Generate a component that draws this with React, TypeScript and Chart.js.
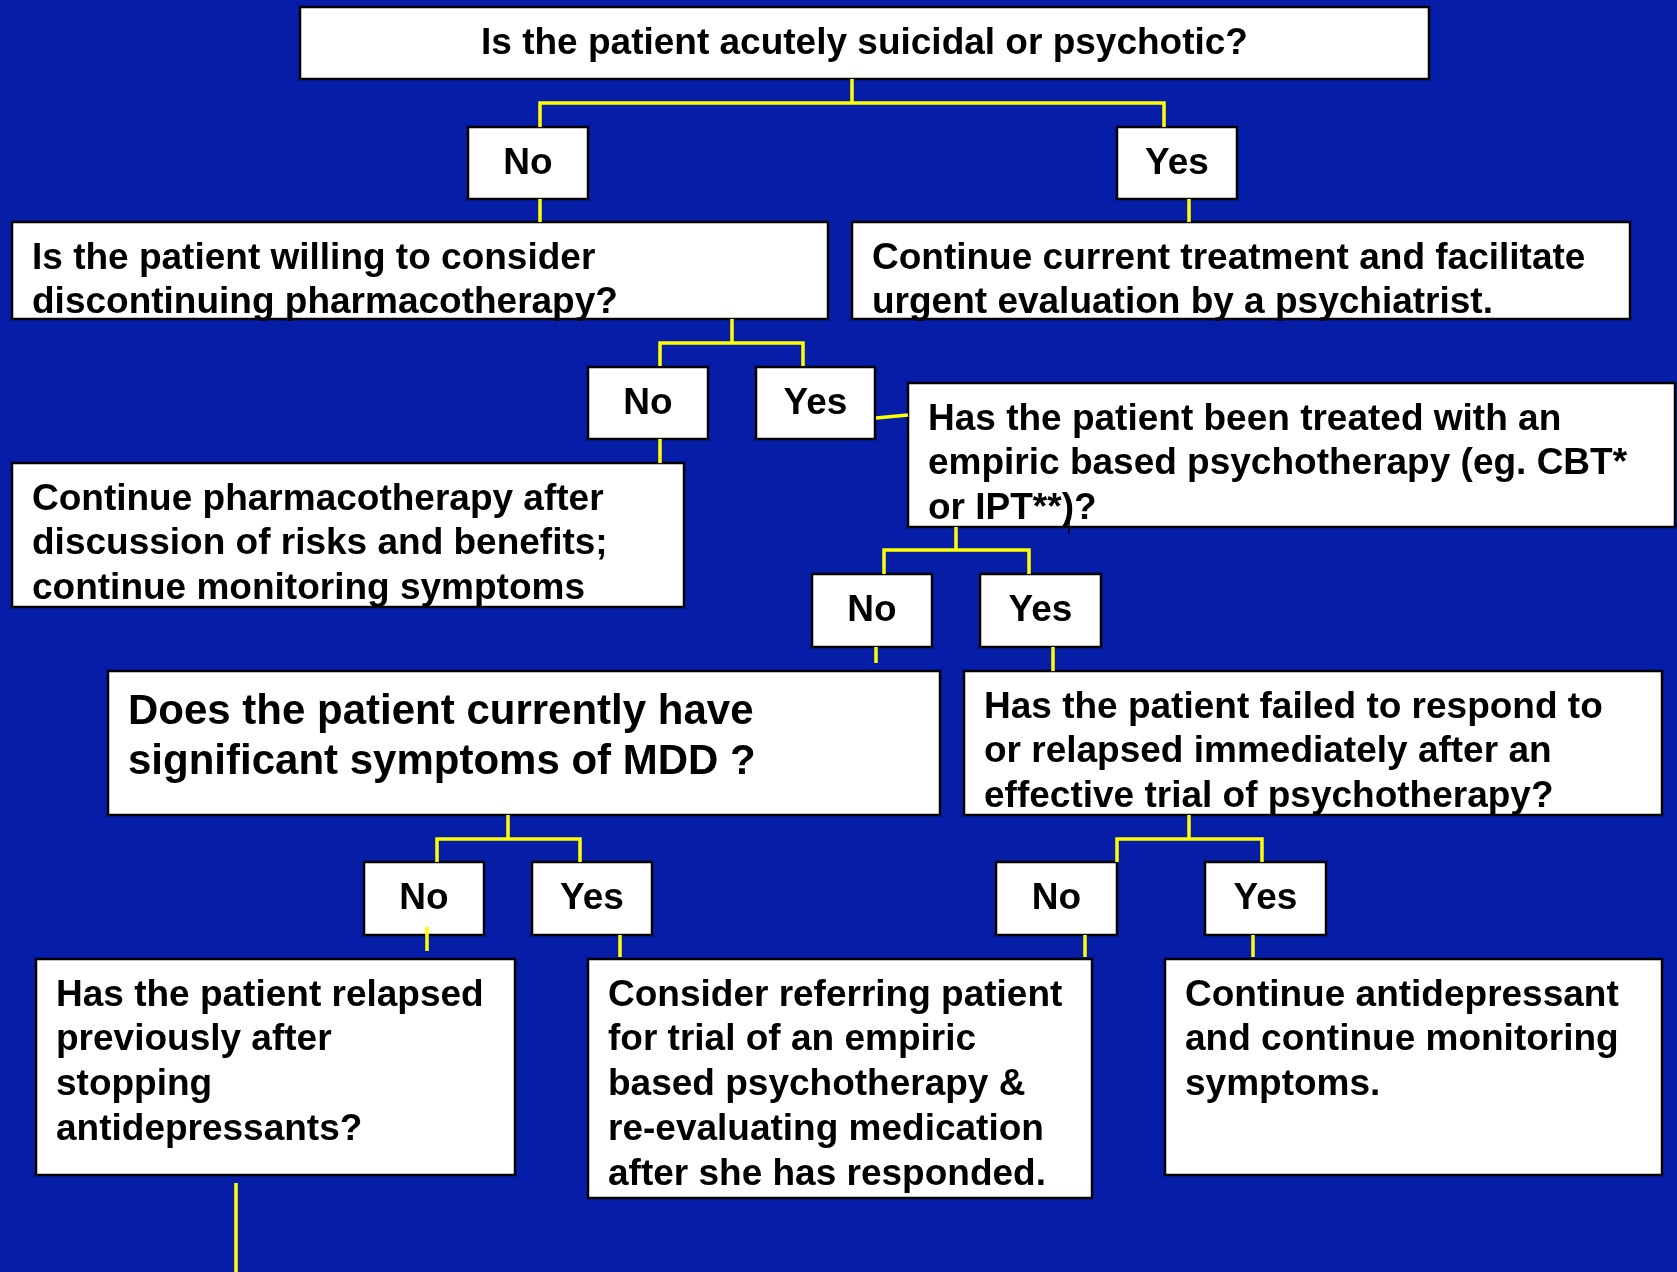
import React, { useEffect, useRef } from "react";
import { Chart, registerables } from "chart.js";

Chart.register(...registerables);

// ---- Flowchart data ----
const nodeTexts: string[][] = [
  ["Is the patient acutely suicidal or psychotic?"],
  ["No"],
  ["Yes"],
  ["Is the patient willing to consider", "discontinuing pharmacotherapy?"],
  ["Continue current treatment and facilitate", "urgent evaluation by a psychiatrist."],
  ["No"],
  ["Yes"],
  ["Continue pharmacotherapy after", "discussion of risks and benefits;", "continue monitoring symptoms"],
  ["Has the patient been treated with an", "empiric based psychotherapy (eg. CBT*", "or IPT**)?"],
  ["No"],
  ["Yes"],
  ["Does the patient currently have", "significant symptoms of MDD ?"],
  ["Has the patient failed to respond to", "or relapsed immediately after an", "effective trial of psychotherapy?"],
  ["No"],
  ["Yes"],
  ["No"],
  ["Yes"],
  ["Has the patient relapsed", "previously after", "stopping", "antidepressants?"],
  ["Consider referring patient", "for trial of an empiric", "based psychotherapy &", "re-evaluating medication", "after she has responded."],
  ["Continue antidepressant", "and continue monitoring", "symptoms."],
];

// node extents in chart units (x0, y0, x1, y1)
const nodeX0 = [300, 468, 1117, 12, 852, 588, 756, 12, 908, 812, 980, 108, 964, 364, 532, 996, 1205, 36, 588, 1165];
const nodeY0 = [7, 127, 127, 222, 222, 367, 367, 463, 383, 574, 574, 671, 671, 862, 862, 862, 862, 959, 959, 959];
const nodeX1 = [1429, 588, 1237, 828, 1630, 708, 875, 684, 1675, 932, 1101, 940, 1662, 484, 652, 1117, 1326, 515, 1092, 1662];
const nodeY1 = [79, 199, 199, 319, 319, 439, 439, 607, 527, 647, 647, 815, 815, 935, 935, 935, 935, 1175, 1198, 1175];
const nodeCentered = [true, true, true, false, false, true, true, false, false, true, true, false, false, true, true, true, true, false, false, false];
const nodeBig = [false, false, false, false, false, false, false, false, false, false, false, true, false, false, false, false, false, false, false, false];

// connector polylines (x, y pairs in chart units)
const connectors: number[][][] = [
  [[852, 79], [852, 103]],
  [[540, 127], [540, 103], [1164, 103], [1164, 127]],
  [[540, 199], [540, 222]],
  [[1189, 199], [1189, 222]],
  [[732, 319], [732, 343]],
  [[660, 366], [660, 343], [803, 343], [803, 366]],
  [[660, 439], [660, 463]],
  [[876, 418], [908, 415]],
  [[956, 527], [956, 550]],
  [[884, 574], [884, 550], [1029, 550], [1029, 574]],
  [[876, 647], [876, 663]],
  [[1053, 647], [1053, 671]],
  [[508, 815], [508, 839]],
  [[437, 862], [437, 839], [580, 839], [580, 862]],
  [[427, 927], [427, 951]],
  [[620, 935], [620, 957]],
  [[1189, 815], [1189, 839]],
  [[1117, 862], [1117, 839], [1262, 839], [1262, 862]],
  [[1085, 935], [1085, 957]],
  [[1253, 935], [1253, 957]],
  [[236, 1183], [236, 1272]],
];
const stray: number[][] = [[1069, 520], [1069, 534]];

const W = 1677;
const H = 1272;
const BG = "#061da8";
const LINE = "#ffff00";
const FONT = "'Liberation Sans', Arial, Helvetica, sans-serif";

export default function App() {
  const ref = useRef<HTMLCanvasElement | null>(null);

  useEffect(() => {
    const canvas = ref.current;
    if (!canvas) return;

    const datasets: any[] = connectors.map((pts) => ({
      data: pts.map((p) => ({ x: p[0], y: p[1] })),
      showLine: true,
      borderColor: LINE,
      borderWidth: 3.5,
      pointRadius: 0,
      fill: false,
      tension: 0,
    }));
    datasets.push({
      data: stray.map((p) => ({ x: p[0], y: p[1] })),
      showLine: true,
      borderColor: "#000000",
      borderWidth: 1.5,
      pointRadius: 0,
      fill: false,
    });

    const flowPlugin = {
      id: "flow",
      beforeDraw(chart: any) {
        const ctx = chart.ctx;
        ctx.save();
        ctx.fillStyle = BG;
        ctx.fillRect(0, 0, chart.width, chart.height);
        ctx.restore();
      },
      beforeDatasetsDraw(chart: any) {
        const ctx = chart.ctx;
        const xs = chart.scales.x;
        const ys = chart.scales.y;
        ctx.save();
        for (let i = 0; i < nodeTexts.length; i++) {
          const x0 = xs.getPixelForValue(nodeX0[i]);
          const x1 = xs.getPixelForValue(nodeX1[i]);
          const y0 = ys.getPixelForValue(nodeY0[i]);
          const y1 = ys.getPixelForValue(nodeY1[i]);
          ctx.fillStyle = "#ffffff";
          ctx.fillRect(x0, y0, x1 - x0, y1 - y0);
          ctx.strokeStyle = "#000000";
          ctx.lineWidth = 2.5;
          ctx.strokeRect(x0, y0, x1 - x0, y1 - y0);
        }
        ctx.restore();
      },
      afterDatasetsDraw(chart: any) {
        const ctx = chart.ctx;
        const xs = chart.scales.x;
        const ys = chart.scales.y;
        ctx.save();
        ctx.fillStyle = "#000000";
        ctx.textBaseline = "alphabetic";
        for (let i = 0; i < nodeTexts.length; i++) {
          const x0 = xs.getPixelForValue(nodeX0[i]);
          const x1 = xs.getPixelForValue(nodeX1[i]);
          const y0 = ys.getPixelForValue(nodeY0[i]);
          const big = nodeBig[i];
          const size = big ? 42 : 37;
          const lh = big ? 50 : 44.8;
          const first = big ? 52.5 : 46.5;
          ctx.font = `bold ${size}px ${FONT}`;
          const lines = nodeTexts[i];
          for (let j = 0; j < lines.length; j++) {
            const y = y0 + first + j * lh;
            if (nodeCentered[i]) {
              ctx.textAlign = "center";
              ctx.fillText(lines[j], (x0 + x1) / 2, y);
            } else {
              ctx.textAlign = "left";
              ctx.fillText(lines[j], x0 + 20, y);
            }
          }
        }
        ctx.restore();
      },
    };

    const chart = new Chart(canvas, {
      type: "scatter",
      data: { datasets },
      options: {
        animation: false,
        responsive: false,
        devicePixelRatio: 1,
        layout: { padding: 0 },
        scales: {
          x: { type: "linear", min: 0, max: W, display: false },
          y: { type: "linear", min: 0, max: H, reverse: true, display: false },
        },
        plugins: {
          legend: { display: false },
          tooltip: { enabled: false },
        },
        elements: { line: { borderCapStyle: "butt" } },
      } as any,
      plugins: [flowPlugin],
    });

    return () => chart.destroy();
  }, []);

  return (
    <div style={{ position: "fixed", left: 0, top: 0, width: W, height: H, background: BG }}>
      <canvas ref={ref} width={W} height={H} style={{ display: "block" }} />
    </div>
  );
}
